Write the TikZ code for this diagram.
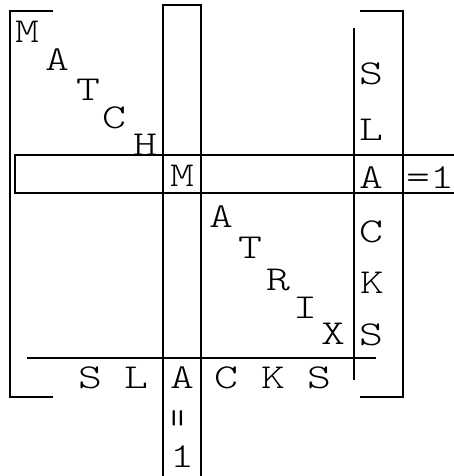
\documentclass[tikz,border=0pt]{standalone}
\usepackage{fontspec}
\newfontfamily\lightmono{Latin Modern Mono Light}
\tikzset{
  band/.style = {line width=1.3pt},
  brk/.style  = {line width=1.3pt},
  ch/.style   = {font=\fontsize{35}{35}\selectfont\lightmono, inner sep=0, transform shape, xscale=1.3},
}
\begin{document}
\begin{tikzpicture}[x=1pt,y=-1pt]
  \useasboundingbox (0,0) rectangle (454,476);
  % brackets
  \draw[brk] (53,11) -- (10,11) -- (10,397) -- (53,397);
  \draw[brk] (360,11) -- (403,11) -- (403,397) -- (360,397);
  % row and column bands
  \draw[band] (454,155) -- (15,155) -- (15,193) -- (454,193);
  \draw[band] (163,476) -- (163,5) -- (201,5) -- (201,476);
  \draw[band] (354,28) -- (354,380);
  \draw[band] (27,358) -- (376,358);
  % MATCH
  \node[ch] (c1) at (27,32) {M};  \node[ch] (c2) at (57,60) {A};
  \node[ch] (c3) at (88,90) {T};  \node[ch] (c4) at (114,118) {C};
  \node[ch] (c5) at (145,145) {H};
  % MATRIX
  \node[ch] (x1) at (182,176) {M}; \node[ch] (x2) at (221,217) {A};
  \node[ch] (x3) at (250,248) {T}; \node[ch] (x4) at (278,280) {R};
  \node[ch] (x5) at (305,308) {I}; \node[ch] (x6) at (333,334) {X};
  % SLACKS, right column
  \node[ch] (s1) at (371,74) {S};  \node[ch] (s2) at (371,130) {L};
  \node[ch] (s3) at (371,178) {A}; \node[ch] (s4) at (371,232) {C};
  \node[ch] (s5) at (372,283) {K}; \node[ch] (s6) at (371,335) {S};
  \node[ch] (eqr) at (430,178) {=1};
  % SLACKS, bottom row
  \node[ch] (b1) at (90,378) {S};  \node[ch] (b2) at (136,378) {L};
  \node[ch] (b3) at (182,378) {A}; \node[ch] (b4) at (226,378) {C};
  \node[ch] (b5) at (273,378) {K}; \node[ch] (b6) at (319,378) {S};
  \node[ch, rotate=90] (eqb) at (182,418) {=};
  \node[ch] (one) at (182,457) {1};
\end{tikzpicture}
\end{document}
